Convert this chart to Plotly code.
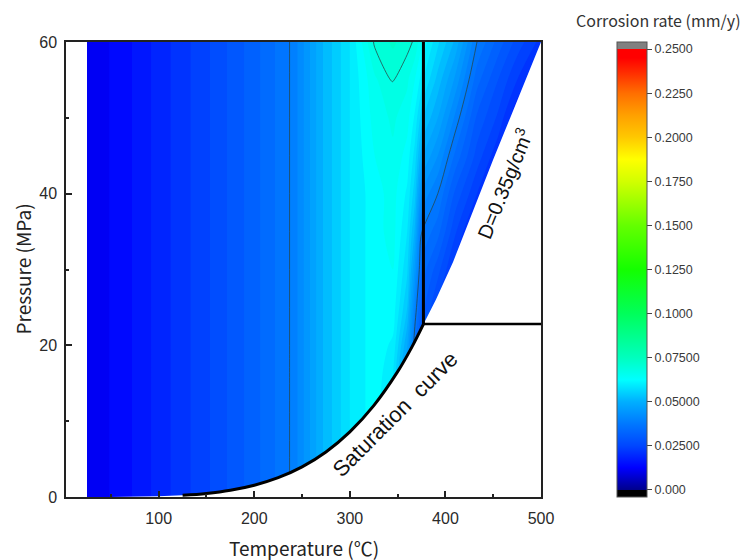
import plotly.graph_objects as go

# ---- corrosion-rate map (mm/y) on a temperature / pressure grid ----
temp_c = [25, 60, 100, 150, 200, 240, 270, 300, 326, 345, 360, 368, 374, 377,
          392, 410, 433, 455, 475, 500]
pres_mpa = [0, 15, 20, 25, 30, 35, 40, 45, 50, 55, 60]

# one row per pressure (bottom to top), one value per temperature column
rate = [
    [0.013, 0.016, 0.021, 0.027, 0.034, 0.0405, 0.052, 0.060, 0.064, 0.060, 0.045, 0.035, 0.030, 0.028, 0.025, 0.022, 0.020, 0.020, 0.020, 0.020],
    [0.013, 0.016, 0.021, 0.027, 0.034, 0.0405, 0.052, 0.060, 0.064, 0.060, 0.045, 0.035, 0.030, 0.028, 0.025, 0.022, 0.020, 0.020, 0.020, 0.020],
    [0.013, 0.016, 0.021, 0.027, 0.034, 0.0405, 0.052, 0.060, 0.064, 0.062, 0.050, 0.038, 0.032, 0.030, 0.025, 0.022, 0.020, 0.020, 0.020, 0.020],
    [0.013, 0.016, 0.021, 0.027, 0.034, 0.0405, 0.052, 0.060, 0.064, 0.064, 0.055, 0.042, 0.035, 0.033, 0.027, 0.022, 0.020, 0.020, 0.020, 0.020],
    [0.013, 0.016, 0.021, 0.027, 0.034, 0.0405, 0.052, 0.060, 0.064, 0.065, 0.058, 0.047, 0.038, 0.036, 0.031, 0.024, 0.020, 0.020, 0.020, 0.020],
    [0.013, 0.016, 0.021, 0.027, 0.034, 0.0405, 0.052, 0.060, 0.064, 0.066, 0.060, 0.052, 0.0405, 0.0395, 0.036, 0.028, 0.020, 0.020, 0.020, 0.020],
    [0.013, 0.016, 0.021, 0.027, 0.034, 0.0405, 0.052, 0.060, 0.064, 0.066, 0.062, 0.056, 0.046, 0.044, 0.040, 0.032, 0.025, 0.020, 0.020, 0.020],
    [0.013, 0.016, 0.021, 0.027, 0.034, 0.0405, 0.052, 0.060, 0.065, 0.067, 0.064, 0.059, 0.052, 0.050, 0.045, 0.037, 0.029, 0.023, 0.020, 0.020],
    [0.013, 0.016, 0.021, 0.027, 0.034, 0.0405, 0.052, 0.060, 0.066, 0.068, 0.066, 0.062, 0.057, 0.055, 0.050, 0.042, 0.032, 0.027, 0.020, 0.020],
    [0.013, 0.016, 0.021, 0.027, 0.034, 0.0405, 0.052, 0.060, 0.067, 0.0702, 0.068, 0.065, 0.062, 0.060, 0.054, 0.047, 0.036, 0.030, 0.025, 0.020],
    [0.013, 0.016, 0.021, 0.027, 0.034, 0.0405, 0.052, 0.060, 0.0705, 0.073, 0.071, 0.0695, 0.066, 0.064, 0.058, 0.052, 0.040, 0.034, 0.029, 0.024],
]

# contour levels that are drawn as thin lines
line_levels = [0.04, 0.07]

# water saturation curve (liquid / vapour boundary) up to the critical point
sat_t = [25, 50, 75, 100, 125, 150, 175, 200, 225, 250, 275, 300, 325, 350, 365, 377]
sat_p = [0.003, 0.012, 0.039, 0.101, 0.232, 0.476, 0.892, 1.555, 2.548, 3.976,
         5.942, 8.588, 12.05, 16.53, 19.8, 22.8]
sat_line_from = 125          # the drawn curve starts here (°C)

# isochore D = 0.35 g/cm3 in the supercritical region
iso_t = [377, 390, 408, 450, 500]
iso_p = [22.8, 26.0, 31.0, 44.5, 60.0]

crit_t, crit_p = 377, 22.8

# colour bar: value -> colour, with an under-range (black) and over-range (grey) cap
cb_vals = [-0.004, -0.0002, 0.0, 0.0125, 0.025, 0.0375, 0.05, 0.0625, 0.075, 0.0875,
           0.1, 0.125, 0.15, 0.175, 0.1875, 0.2, 0.2125, 0.225, 0.2375, 0.245,
           0.2499, 0.2501, 0.254]
cb_cols = ['#000000', '#000000', '#00008c', '#0000ff', '#0046ff', '#0078ff', '#00afff',
           '#00ffff', '#00ffbe', '#00ff8c', '#00ff5a', '#14ff00', '#64ff00', '#d2ff00',
           '#ffff00', '#ffc800', '#ffa000', '#ff6e00', '#ff2800', '#ff0000', '#ff0000',
           '#808080', '#808080']
cb_ticks = [0, 0.025, 0.05, 0.075, 0.1, 0.125, 0.15, 0.175, 0.2, 0.225, 0.25]
cb_ticktext = ['0.000', '0.02500', '0.05000', '0.07500', '0.1000', '0.1250',
               '0.1500', '0.1750', '0.2000', '0.2250', '0.2500']

zmin, zmax = cb_vals[0], cb_vals[-1]
colorscale = [[(v - zmin) / (zmax - zmin), c] for v, c in zip(cb_vals, cb_cols)]

TICK_FONT = dict(family='Liberation Sans, Arial, sans-serif', size=16, color='#2a2a2a')
JP_FONT = 'Noto Sans CJK JP, sans-serif'
LABEL_FONT = 'Liberation Sans, Arial, sans-serif'

fig = go.Figure()

# filled contour map
fig.add_trace(go.Contour(
    x=temp_c, y=pres_mpa, z=rate,
    colorscale=colorscale, zmin=zmin, zmax=zmax, zauto=False,
    contours=dict(start=0, end=0.25, size=0.0025, coloring='fill', showlines=False),
    line=dict(width=0), showscale=False, hoverinfo='skip',
))

# thin contour lines
fig.add_trace(go.Contour(
    x=temp_c, y=pres_mpa, z=rate,
    contours=dict(start=line_levels[0], end=line_levels[-1],
                  size=line_levels[1] - line_levels[0], coloring='none'),
    line=dict(color='rgba(40,70,70,0.85)', width=0.9),
    showscale=False, hoverinfo='skip',
))

# blank out the vapour side of the saturation curve and the low-density side of the isochore
mask_x = [sat_t[0]] + sat_t + iso_t[1:] + [502, 502, sat_t[0]]
mask_y = [-1] + sat_p + iso_p[1:] + [60, -1, -1]
fig.add_trace(go.Scatter(
    x=mask_x, y=mask_y, fill='toself', fillcolor='white',
    line=dict(width=0, color='white'), mode='lines', hoverinfo='skip', showlegend=False,
))

# saturation curve
sat_draw = [(t, p) for t, p in zip(sat_t, sat_p) if t >= sat_line_from]
fig.add_trace(go.Scatter(
    x=[t for t, _ in sat_draw], y=[p for _, p in sat_draw], mode='lines',
    line=dict(color='black', width=3, shape='spline'), hoverinfo='skip', showlegend=False,
))
# critical isotherm and critical isobar
fig.add_trace(go.Scatter(
    x=[crit_t, crit_t], y=[crit_p, 60], mode='lines',
    line=dict(color='black', width=3), hoverinfo='skip', showlegend=False,
))
fig.add_trace(go.Scatter(
    x=[crit_t, 500], y=[crit_p, crit_p], mode='lines',
    line=dict(color='black', width=2.5), hoverinfo='skip', showlegend=False,
))

# continuous colour bar (hidden heatmap outside the axis range carries the scale)
fig.add_trace(go.Heatmap(
    x=[-200, -199], y=[-200, -199], z=[[zmin, zmax], [zmin, zmax]],
    colorscale=colorscale, zmin=zmin, zmax=zmax, hoverinfo='skip',
    colorbar=dict(
        x=(617 - 66) / 475, xanchor='left', xpad=0, ypad=0,
        y=0.5, yanchor='middle', len=1, lenmode='fraction', thickness=30,
        outlinewidth=1, outlinecolor='#555',
        tickmode='array', tickvals=cb_ticks, ticktext=cb_ticktext,
        ticks='outside', ticklen=5, tickwidth=1, tickcolor='#444',
        tickfont=dict(family=LABEL_FONT, size=12.5, color='#3a3a3a'),
    ),
))

fig.update_layout(
    width=746, height=560,
    margin=dict(l=66, r=205, t=42, b=63),
    paper_bgcolor='white', plot_bgcolor='white',
    showlegend=False,
    xaxis=dict(
        range=[3, 500], tickmode='array', tickvals=[100, 200, 300, 400, 500],
        ticks='inside', ticklen=6, tickwidth=1.5, tickcolor='#222',
        minor=dict(ticks='inside', ticklen=3, tickwidth=1.5, tickcolor='#222', dtick=50, tick0=0),
        showline=True, linecolor='#222', linewidth=1.5, mirror=True,
        showgrid=False, zeroline=False, tickfont=TICK_FONT, ticklabelstandoff=6,
    ),
    yaxis=dict(
        range=[0, 60], tickmode='array', tickvals=[0, 20, 40, 60],
        ticks='inside', ticklen=6, tickwidth=1.5, tickcolor='#222',
        minor=dict(ticks='inside', ticklen=3, tickwidth=1.5, tickcolor='#222', dtick=10, tick0=0),
        showline=True, linecolor='#222', linewidth=1.5, mirror=True,
        showgrid=False, zeroline=False, tickfont=TICK_FONT, ticklabelstandoff=4,
    ),
    annotations=[
        dict(text='Temperature (℃)', xref='paper', yref='paper', x=0.5, y=(497 - 547) / 455,
             xanchor='center', yanchor='middle', showarrow=False,
             font=dict(family=JP_FONT, size=19, color='#222')),
        dict(text='Pressure (MPa)', xref='paper', yref='paper', x=(22 - 66) / 475, y=0.5,
             xanchor='center', yanchor='middle', textangle=-90, showarrow=False,
             font=dict(family=JP_FONT, size=19, color='#222')),
        dict(text='Corrosion rate (mm/y)', xref='paper', yref='paper',
             x=(743 - 66) / 475, y=(497 - 20) / 455, xanchor='right', yanchor='middle',
             showarrow=False, font=dict(family=JP_FONT, size=16, color='#333')),
        dict(text='Saturation  curve', x=347, y=10.9, xref='x', yref='y', textangle=-45,
             showarrow=False, font=dict(family=LABEL_FONT, size=22, color='#111')),
        dict(text='D=0.35g/cm<sup>3</sup>', x=461, y=41.3, xref='x', yref='y', textangle=-68,
             showarrow=False, font=dict(family=LABEL_FONT, size=20, color='#111')),
    ],
)

fig.write_html('out.html')
